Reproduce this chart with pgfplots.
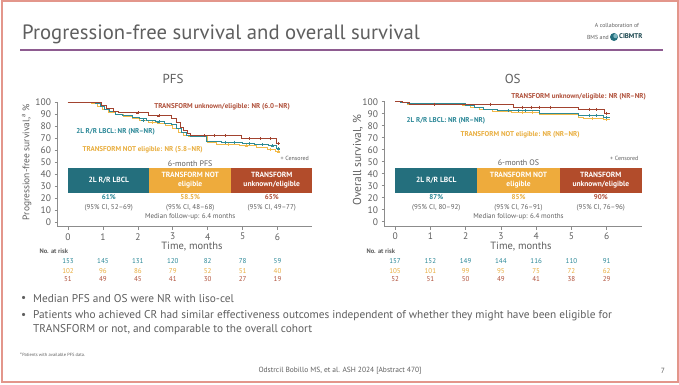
\documentclass[border=0pt]{standalone}
\usepackage{pgfplots}
\pgfplotsset{compat=1.18}
\usepackage{fontspec}
\setmainfont{PT Sans}
\definecolor{cTealBox}{HTML}{246F7D}
\definecolor{cOrangeBox}{HTML}{EEAB3C}
\definecolor{cRustBox}{HTML}{B24C2B}
\definecolor{cTealTxt}{HTML}{2A8797}
\definecolor{cOrangeTxt}{HTML}{E9AE3E}
\definecolor{cRustTxt}{HTML}{B0503A}
\definecolor{cTealLine}{HTML}{2E8B96}
\definecolor{cOrangeLine}{HTML}{F2BA4A}
\definecolor{cRustLine}{HTML}{A2432F}
\definecolor{cGray}{HTML}{5F5F5F}
\definecolor{cAxis}{HTML}{8C8C8C}
\definecolor{cFrame}{HTML}{E3968B}
\definecolor{cPurple}{HTML}{8E5B90}
\newcommand{\fs}[1]{\fontsize{#1}{#1}\selectfont}
\pgfplotsset{km/.style={
  scale only axis, height=124.8pt,
  xmin=-0.3, xmax=7, ymin=-4, ymax=100,
  axis x line=bottom, axis y line=left,
  axis line style={-, cAxis, line width=0.7pt},
  every outer x axis line/.append style={-},
  every outer y axis line/.append style={-},
  xtick={0,...,6}, ytick={0,10,...,100},
  tick style={cAxis, line width=0.6pt},
  tick align=outside, major tick length=3pt,
  ticklabel style={font=\fs{9.5}, text=cGray},
  /pgf/number format/assume math mode=true,
  clip=false,
  every axis plot/.append style={const plot, line width=1pt},
  cens/.style={only marks, mark=+, mark size=1.6pt, line width=0.5pt},
}}
\begin{document}
\begin{tikzpicture}[x=1pt,y=1pt]
\useasboundingbox (0,0) rectangle (679,384);
\fill[white] (0,0) rectangle (679,384);
\draw[cFrame, line width=2pt] (1.5,2.5) rectangle (677.5,382.5);
% title
\node[anchor=west, text=cGray, inner sep=0pt] at (22,384-34) {\fs{20.7}Progression-free survival and overall survival};
\draw[cPurple, line width=1.8pt] (20,384-50) -- (663,384-50);
\node[text=cGray, inner sep=0pt] at (617,384-25) {\fs{5.8}A collaboration of};
\node[text=cGray, inner sep=0pt, anchor=east] at (609,384-37) {\fs{5.8}BMS and};
\fill[cTealBox] (614,384-37) circle (4);
\fill[cTealTxt!60] (615.5,384-36) circle (2.2);
\node[text=cTealBox!60!black, inner sep=0pt, anchor=west] at (619,384-36.5) {\fs{6.8}\bfseries CIBMTR};
% PFS
\node[text=cGray] at (173,384-79) {\fs{13}PFS};
\node[text=cGray, rotate=90] at (26.7,384-162) {\fs{9.5}Progression-free survival,\textsuperscript{a} \%};
\node[text=cGray] at (192,384-247) {\fs{10.5}Time, months};
\node[text=cGray, anchor=west] at (36,384-251) {\fs{6.5}\bfseries No. at risk};
\foreach \x/\a/\b/\c in {0/153/102/51,1/145/96/49,2/131/86/45,3/120/79/41,4/82/52/30,5/78/51/27,6/59/40/19}{
  \node[text=cTealTxt, font=\fs{7}] at ({57.5+34.93*(\x+0.3)},384-261) {\a};
  \node[text=cOrangeTxt, font=\fs{7}] at ({57.5+34.93*(\x+0.3)},384-271) {\b};
  \node[text=cRustTxt, font=\fs{7}] at ({57.5+34.93*(\x+0.3)},384-279.5) {\c};
}
\begin{axis}[km, width=255pt, at={(57.5pt,157.2pt)}, anchor=south west]
\fill[cTealBox] (axis cs:0,24) rectangle (axis cs:2.333,45);
\fill[cOrangeBox] (axis cs:2.333,24) rectangle (axis cs:4.667,45);
\fill[cRustBox] (axis cs:4.667,24) rectangle (axis cs:7,45);
\node[white, align=center, font=\fs{7.5}\bfseries] at (axis cs:1.167,34.5) {2L R/R LBCL};
\node[white, align=center, font=\fontsize{7.5}{9}\selectfont\bfseries] at (axis cs:3.5,34.5) {TRANSFORM NOT\\eligible};
\node[white, align=center, font=\fontsize{7.5}{9}\selectfont\bfseries] at (axis cs:5.833,34.5) {TRANSFORM\\unknown/eligible};
\node[text=cTealTxt, font=\fs{7}\bfseries] at (axis cs:1.167,20.6) {61\%};
\node[text=cOrangeTxt, font=\fs{7}\bfseries] at (axis cs:3.5,20.6) {58.5\%};
\node[text=cRustTxt, font=\fs{7}\bfseries] at (axis cs:5.833,20.6) {65\%};
\node[text=cGray, font=\fs{7}] at (axis cs:1.167,11.9) {(95\% CI, 52–69)};
\node[text=cGray, font=\fs{7}] at (axis cs:3.5,11.9) {(95\% CI, 48–68)};
\node[text=cGray, font=\fs{7}] at (axis cs:5.833,11.9) {(95\% CI, 49–77)};
\node[text=cGray, font=\fs{7}] at (axis cs:3.5,4.4) {Median follow-up: 6.4 months};
\node[text=cGray, font=\fs{8}] at (axis cs:3.5,49) {6-month PFS};
\node[text=cGray, font=\fs{6}, anchor=east] at (axis cs:7,52.7) {+ Censored};
\node[text=cRustTxt, font=\fs{7}\bfseries, anchor=west] at (axis cs:2.37,95.8) {TRANSFORM unknown/eligible: NR (6.0–NR)};
\node[text=cTealTxt, font=\fs{7}\bfseries, anchor=west] at (axis cs:0.14,75) {2L R/R LBCL: NR (NR–NR)};
\node[text=cOrangeTxt, font=\fs{7}\bfseries, anchor=west] at (axis cs:0.32,60) {TRANSFORM NOT eligible: NR (5.8–NR)};
\addplot[cOrangeLine] coordinates {(0,100)(0.68,98.5)(0.85,96.5)(1.0,94)(1.15,91.5)(1.35,89.5)(1.6,88)(1.85,86.5)(2.05,85)(2.3,83)(2.55,82)(2.8,80.5)(3.0,78)(3.15,75)(3.3,72)(3.45,71)(4.0,66)(4.25,64.5)(4.9,63.5)(5.4,62)(5.7,60.5)(5.95,58.5)(6.07,58.5)};
\addplot[cTealLine] coordinates {(0,100)(0.8,98.5)(0.92,96.5)(1.05,94)(1.2,92)(1.35,90)(1.55,88.5)(1.85,87.5)(2.05,86)(2.25,84.5)(2.5,83.5)(2.75,82.5)(2.95,81)(3.1,78)(3.25,75)(3.4,72.5)(3.5,71.5)(3.97,67.5)(4.4,66.5)(5.0,65.5)(5.35,64.5)(5.75,63.5)(5.98,61)(6.07,61)};
\addplot[cRustLine] coordinates {(0,100)(0.97,97.5)(1.1,94.5)(1.3,92)(1.45,91)(2.3,88.5)(2.95,86.5)(3.12,83)(3.22,79)(3.32,76)(3.42,73.5)(3.52,72)(4.97,69.5)(5.98,65.5)(6.07,65.5)};
\addplot[cens, cOrangeLine] coordinates {(2.4,83)(4.6,64.5)(5.1,63.5)(5.8,60.5)(6.03,58.5)};
\addplot[cens, cTealLine] coordinates {(2.15,84.5)(2.6,83.5)(4.5,66.5)(4.75,66.5)(5.2,65.5)(5.55,64.5)(5.85,63.5)(6.02,61)};
\addplot[cens, cRustLine] coordinates {(2.0,91)(2.6,88.5)(3.9,72)(4.2,72)(4.5,72)(5.2,69.5)(5.5,69.5)(5.8,69.5)(6.02,65.5)};
\end{axis}
% OS
\node[text=cGray] at (512.7,384-79) {\fs{13}OS};
\node[text=cGray, rotate=90] at (358,384-160) {\fs{11.5}Overall survival, \%};
\node[text=cGray] at (521,384-247) {\fs{10.5}Time, months};
\node[text=cGray, anchor=west] at (363,384-251) {\fs{6.5}\bfseries No. at risk};
\foreach \x/\a/\b/\c in {0/157/105/52,1/152/101/51,2/149/99/50,3/144/95/49,4/116/75/41,5/110/72/38,6/91/62/29}{
  \node[text=cTealTxt, font=\fs{7}] at ({384.5+35.27*(\x+0.3)},384-261) {\a};
  \node[text=cOrangeTxt, font=\fs{7}] at ({384.5+35.27*(\x+0.3)},384-271) {\b};
  \node[text=cRustTxt, font=\fs{7}] at ({384.5+35.27*(\x+0.3)},384-279.5) {\c};
}
\begin{axis}[km, width=257.5pt, at={(384.5pt,157.5pt)}, anchor=south west]
\fill[cTealBox] (axis cs:0,24) rectangle (axis cs:2.333,45);
\fill[cOrangeBox] (axis cs:2.333,24) rectangle (axis cs:4.667,45);
\fill[cRustBox] (axis cs:4.667,24) rectangle (axis cs:7,45);
\node[white, align=center, font=\fs{7.5}\bfseries] at (axis cs:1.167,34.5) {2L R/R LBCL};
\node[white, align=center, font=\fontsize{7.5}{9}\selectfont\bfseries] at (axis cs:3.5,34.5) {TRANSFORM NOT\\eligible};
\node[white, align=center, font=\fontsize{7.5}{9}\selectfont\bfseries] at (axis cs:5.833,34.5) {TRANSFORM\\unknown/eligible};
\node[text=cTealTxt, font=\fs{7}\bfseries] at (axis cs:1.167,20.6) {87\%};
\node[text=cOrangeTxt, font=\fs{7}\bfseries] at (axis cs:3.5,20.6) {85\%};
\node[text=cRustTxt, font=\fs{7}\bfseries] at (axis cs:5.833,20.6) {90\%};
\node[text=cGray, font=\fs{7}] at (axis cs:1.167,11.9) {(95\% CI, 80–92)};
\node[text=cGray, font=\fs{7}] at (axis cs:3.5,11.9) {(95\% CI, 76–91)};
\node[text=cGray, font=\fs{7}] at (axis cs:5.833,11.9) {(95\% CI, 76–96)};
\node[text=cGray, font=\fs{7}] at (axis cs:3.5,4.4) {Median follow-up: 6.4 months};
\node[text=cGray, font=\fs{8}] at (axis cs:3.5,49) {6-month OS};
\node[text=cGray, font=\fs{6}, anchor=east] at (axis cs:7,52.7) {+ Censored};
\node[text=cRustTxt, font=\fs{7}\bfseries, anchor=west] at (axis cs:3.2,104.5) {TRANSFORM unknown/eligible: NR (NR–NR)};
\node[text=cTealTxt, font=\fs{7}\bfseries, anchor=west] at (axis cs:0.23,84) {2L R/R LBCL: NR (NR–NR)};
\node[text=cOrangeTxt, font=\fs{7}\bfseries, anchor=west] at (axis cs:1.76,72.4) {TRANSFORM NOT eligible: NR (NR–NR)};
\addplot[cOrangeLine] coordinates {(0,100)(0.15,99)(0.35,98)(1.9,96.5)(2.15,95)(2.4,93.5)(2.75,92)(3.3,91)(4.1,89.5)(5.2,87)(5.35,86)(5.9,85)(6.1,85)};
\addplot[cTealLine] coordinates {(0,100)(0.15,99)(0.35,98.5)(2.0,97)(2.25,95.5)(2.5,93.5)(2.9,92.5)(4.1,90.5)(5.2,88.5)(5.9,87)(6.1,87)};
\addplot[cRustLine] coordinates {(0,100)(0.2,99)(0.4,98)(3.35,95.5)(5.2,93.5)(5.95,90.5)(6.1,90.5)};
\addplot[cens, cOrangeLine] coordinates {(3.6,91)(3.9,91)(5.6,86)(6.0,85)};
\addplot[cens, cTealLine] coordinates {(3.2,92.5)(3.5,92.5)(3.7,92.5)(5.5,88.5)(5.7,88.5)(6.0,87)};
\addplot[cens, cRustLine] coordinates {(1.1,98)(2.7,98)(3.6,95.5)(3.85,95.5)(4.1,95.5)(4.4,95.5)(5.5,93.5)(5.7,93.5)(6.0,90.5)};
\end{axis}
% bullets
\node[text=cGray, anchor=west, inner sep=0pt] at (21,384-299) {\fs{11.3}•};
\node[text=cGray, anchor=west, inner sep=0pt] at (33,384-299) {\fs{11.3}Median PFS and OS were NR with liso-cel};
\node[text=cGray, anchor=west, inner sep=0pt] at (21,384-316) {\fs{11.3}•};
\node[text=cGray, anchor=west, inner sep=0pt] at (33,384-316) {\fs{11.3}Patients who achieved CR had similar effectiveness outcomes independent of whether they might have been eligible for};
\node[text=cGray, anchor=west, inner sep=0pt] at (33,384-330) {\fs{11.3}TRANSFORM or not, and comparable to the overall cohort};
\node[text=cGray, anchor=west, inner sep=0pt] at (20,384-355) {\fs{4.5}\textsuperscript{a}Patients with available PFS data.};
\node[text=cGray, inner sep=0pt] at (340,384-371) {\fs{7.5}Odstrcil Bobillo MS, et al. ASH 2024 [Abstract 470]};
\node[text=cGray, inner sep=0pt] at (663,384-371) {\fs{7.5}7};
\end{tikzpicture}
\end{document}
